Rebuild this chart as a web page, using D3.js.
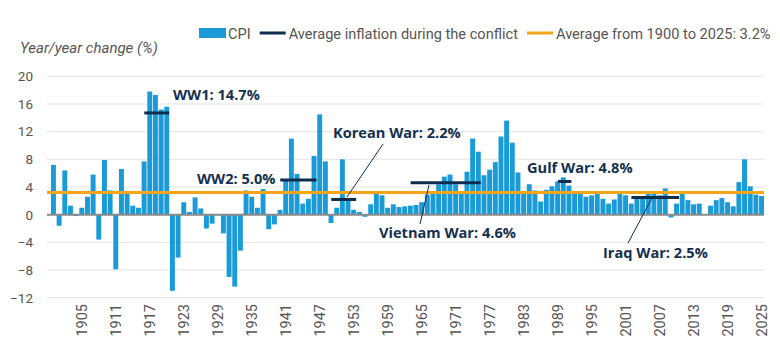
<!DOCTYPE html>
<html>
<head>
<meta charset="utf-8">
<script src="https://cdn.jsdelivr.net/npm/d3@7"></script>
<style>
  body { margin: 0; background: #fff; }
  svg { font-family: Roboto, "Open Sans", sans-serif; }
</style>
</head>
<body>
<svg class="chart"></svg>
<script>
var width = 780;
var height = 350;

// year/year CPI change, 1900 - 2025
var years = d3.range(1900, 2026);
var cpi = [
  7.2, -1.6, 6.4, 1.3, -0.2, 1.0, 2.6, 5.8, -3.6, 7.9,
  3.5, -7.9, 6.6, 3.0, 1.3, 1.0, 7.7, 17.8, 17.3, 15.2,
  15.6, -11.0, -6.2, 1.8, 0.4, 2.5, 0.9, -2.0, -1.3, 0.0,
  -2.7, -9.0, -10.4, -5.2, 3.5, 2.6, 1.0, 3.7, -2.1, -1.4,
  0.7, 5.0, 11.0, 5.9, 1.6, 2.3, 8.5, 14.5, 7.7, -1.2,
  1.0, 8.0, 2.3, 0.7, 0.4, -0.3, 1.5, 3.4, 2.8, 1.0,
  1.5, 1.1, 1.2, 1.3, 1.4, 1.8, 2.9, 3.1, 4.4, 5.5,
  5.8, 4.4, 3.3, 6.2, 11.0, 9.1, 5.7, 6.5, 7.6, 11.3,
  13.6, 10.4, 6.1, 3.3, 4.4, 3.5, 1.9, 3.6, 4.1, 4.8,
  5.4, 4.2, 3.0, 3.0, 2.6, 2.8, 3.0, 2.3, 1.6, 2.2,
  3.4, 2.8, 1.6, 2.3, 2.7, 3.4, 3.2, 2.8, 3.8, -0.4,
  1.6, 3.2, 2.1, 1.5, 1.6, 0.1, 1.3, 2.1, 2.4, 1.8,
  1.2, 4.7, 8.0, 4.1, 2.9, 2.7
];
var longRunAvg = 3.2;

var conflicts = ['WW1', 'WW2', 'Korean War', 'Vietnam War', 'Gulf War', 'Iraq War'];
var conflictStart = [1917, 1941, 1950, 1964, 1990, 2003];
var conflictEnd = [1920, 1946, 1953, 1975, 1991, 2010];
var conflictAvg = [14.7, 5.0, 2.2, 4.6, 4.8, 2.5];

var yTicks = [-12, -8, -4, 0, 4, 8, 12, 16, 20];
var xTickYears = d3.range(1905, 2026, 6);

var blue = '#1a9bd7';
var navy = '#0f2d4e';
var orange = '#f4a51c';
var grey = '#555';

var chart = d3.select('.chart')
    .attr('width', width)
    .attr('height', height);

var x = d3.scaleBand()
  .domain(years)
  .range([51, 764])
  .paddingInner(0.13);

var y = d3.scaleLinear()
  .domain([-12, 20])
  .range([297.7, 76.3]);

// gridlines
chart.append('g')
  .selectAll('line')
  .data(yTicks)
  .join('line')
    .attr('x1', 47)
    .attr('x2', 764)
    .attr('y1', function(d){ return y(d); })
    .attr('y2', function(d){ return y(d); })
    .attr('stroke', '#e3e3e3')
    .attr('stroke-width', 1);

// y axis labels
var y_axis = d3.axisLeft(y)
  .tickValues(yTicks)
  .tickSize(0)
  .tickPadding(0);

chart.append('g')
  .attr('transform', 'translate(33,0)')
  .call(y_axis)
  .call(function(g){ g.select('.domain').remove(); })
  .selectAll('text')
    .attr('font-size', 13.5)
    .attr('font-family', 'Roboto, sans-serif')
    .attr('fill', grey);

// axis title
chart.append('text')
  .attr('x', 20)
  .attr('y', 53)
  .attr('font-size', 15)
  .attr('font-style', 'italic')
  .attr('fill', grey)
  .text('Year/year change (%)');

// bars
chart.append('g')
  .selectAll('rect')
  .data(years)
  .join('rect')
    .attr('x', function(d){ return x(d); })
    .attr('y', function(d, i){ return y(Math.max(0, cpi[i])); })
    .attr('width', x.bandwidth())
    .attr('height', function(d, i){ return Math.abs(y(cpi[i]) - y(0)); })
    .attr('fill', blue);

// zero line
chart.append('line')
  .attr('x1', 47)
  .attr('x2', 764)
  .attr('y1', y(0))
  .attr('y2', y(0))
  .attr('stroke', '#8a8a8a')
  .attr('stroke-width', 2);

// long-run average
chart.append('line')
  .attr('x1', 47)
  .attr('x2', 764)
  .attr('y1', y(longRunAvg))
  .attr('y2', y(longRunAvg))
  .attr('stroke', orange)
  .attr('stroke-width', 3);

// conflict averages
chart.append('g')
  .selectAll('line')
  .data(conflicts)
  .join('line')
    .attr('x1', function(d, i){ return x(conflictStart[i]) - 3; })
    .attr('x2', function(d, i){ return x(conflictEnd[i]) + x.bandwidth(); })
    .attr('y1', function(d, i){ return y(conflictAvg[i]); })
    .attr('y2', function(d, i){ return y(conflictAvg[i]); })
    .attr('stroke', navy)
    .attr('stroke-width', 3);

// annotation placement (label left x, baseline y, optional leader)
var notes = [
  {x: 173, y: 100},
  {x: 197, y: 184},
  {x: 333, y: 138, lx1: 383, ly1: 144, lx2: 347, ly2: 197},
  {x: 379, y: 238, lx1: 420, ly1: 224, lx2: 429, ly2: 185},
  {x: 527, y: 173},
  {x: 603, y: 258, lx1: 628, ly1: 243, lx2: 652, ly2: 198}
];

var ann = chart.append('g');
conflicts.forEach(function(name, i){
  var n = notes[i];
  ann.append('text')
    .attr('x', n.x)
    .attr('y', n.y)
    .attr('font-size', 14.6)
    .attr('font-weight', 'bold')
    .attr('font-family', '"Open Sans", sans-serif')
    .attr('fill', '#14304f')
    .text(name + ': ' + conflictAvg[i].toFixed(1) + '%');
  if (n.lx1 !== undefined) {
    ann.append('line')
      .attr('x1', n.lx1).attr('y1', n.ly1)
      .attr('x2', n.lx2).attr('y2', n.ly2)
      .attr('stroke', navy)
      .attr('stroke-width', 1);
  }
});

// x axis labels, rotated
chart.append('g')
  .selectAll('text')
  .data(xTickYears)
  .join('text')
    .attr('transform', function(d){
      return 'translate(' + (x(d) + x.bandwidth() / 2) + ',304) rotate(-90)';
    })
    .attr('text-anchor', 'end')
    .attr('dy', '0.35em')
    .attr('font-size', 14.5)
    .attr('fill', grey)
    .text(function(d){ return d; });

// legend
var legendItems = [
  {label: 'CPI', kind: 'rect', color: blue},
  {label: 'Average inflation during the conflict', kind: 'line', color: navy},
  {label: 'Average from 1900 to 2025: ' + longRunAvg + '%', kind: 'line', color: orange}
];
var legend = chart.append('g');
var lx = 199;
legendItems.forEach(function(item){
  if (item.kind == 'rect') {
    legend.append('rect')
      .attr('x', lx).attr('y', 28)
      .attr('width', 27).attr('height', 10)
      .attr('fill', item.color);
  } else {
    legend.append('line')
      .attr('x1', lx).attr('x2', lx + 26)
      .attr('y1', 33).attr('y2', 33)
      .attr('stroke', item.color)
      .attr('stroke-width', 3);
  }
  var t = legend.append('text')
    .attr('x', lx + 29)
    .attr('y', 38.5)
    .attr('font-size', 14.6)
    .attr('fill', grey)
    .text(item.label);
  lx = lx + 29 + t.node().getComputedTextLength() + 9;
});
</script>
</body>
</html>
